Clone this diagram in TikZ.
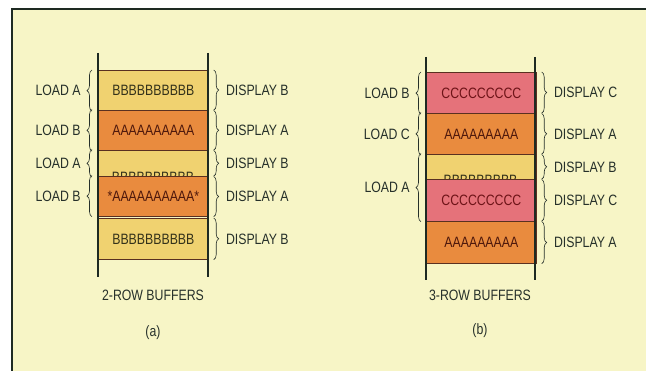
\documentclass[tikz,border=0pt]{standalone}
\usepackage{fontspec}
\setmainfont[FakeStretch=0.82]{Liberation Sans}
\usetikzlibrary{decorations.pathreplacing}

\definecolor{paper}{HTML}{F7F5C6}
\definecolor{frame}{HTML}{1E2A22}
\definecolor{lightrow}{HTML}{F0D270}
\definecolor{orangerow}{HTML}{E98B3E}
\definecolor{pinkrow}{HTML}{E5727A}
\definecolor{rowline}{HTML}{5A3020}
\definecolor{ink}{HTML}{26302A}
\definecolor{btext}{HTML}{34321A}
\definecolor{atext}{HTML}{4E180C}
\definecolor{ctext}{HTML}{6E1418}

\tikzset{
  buf/.style={rectangle, draw=rowline, line width=0.7pt, minimum width=110pt,
    inner sep=0pt, anchor=north west, font=\fontsize{15}{17}\selectfont},
  rail/.style={draw=frame, line width=2.2pt},
  lbrace/.style={draw=ink, line width=0.6pt, decorate, decoration={brace, amplitude=5pt}},
  lbl/.style={text=ink, inner sep=1pt, font=\fontsize{15}{17}\selectfont},
}

\begin{document}
\begin{tikzpicture}[x=1pt, y=-1pt]
\useasboundingbox (0,0) rectangle (646,371);
\fill[white] (0,0) rectangle (646,371);
\fill[paper] (12,9) rectangle (646,371);
\draw[draw=frame, line width=1.6pt] (12,371) -- (12,9) -- (646,9);

% (a) 2-row buffers
\node[buf, fill=lightrow, minimum height=40pt, text=btext] (a1) at (98,70) {BBBBBBBBBB};
\node[buf, fill=orangerow, minimum height=40pt, text=atext] (a2) at (98,110) {AAAAAAAAAA};
\node[buf, fill=lightrow, minimum height=26pt] (a3) at (98,150) {};
\node[text=btext, inner sep=0pt, font=\fontsize{15}{17}\selectfont] (a3t) at (153,177) {BBBBBBBBBB};
\node[buf, fill=orangerow, minimum height=40pt, text=atext] (a4) at (98,176) {*AAAAAAAAAA*};
\node[buf, fill=lightrow, minimum height=41pt, text=btext] (a5) at (98,218) {BBBBBBBBBB};
\draw[rail] (98,53) -- (98,277);
\draw[rail] (208,53) -- (208,277);

\draw[lbrace] ([xshift=-6pt,yshift=-0.5pt]a1.south west) -- ([xshift=-6pt]a1.north west) node[lbl, midway, left=10pt] (la1) {LOAD A};
\draw[lbrace] ([xshift=-6pt,yshift=-0.5pt]a2.south west) -- ([xshift=-6pt,yshift=0.5pt]a2.north west) node[lbl, midway, left=10pt] (la2) {LOAD B};
\draw[lbrace] ([xshift=-6pt,yshift=-0.5pt]a3.south west) -- ([xshift=-6pt,yshift=0.5pt]a3.north west) node[lbl, midway, left=10pt] (la3) {LOAD A};
\draw[lbrace] ([xshift=-6pt]a4.south west) -- ([xshift=-6pt,yshift=0.5pt]a4.north west) node[lbl, midway, left=10pt] (la4) {LOAD B};

\draw[lbrace] ([xshift=5pt]a1.north east) -- ([xshift=5pt,yshift=0.5pt]a1.south east) node[lbl, midway, right=11pt] (da1) {DISPLAY B};
\draw[lbrace] ([xshift=5pt,yshift=-0.5pt]a2.north east) -- ([xshift=5pt,yshift=0.5pt]a2.south east) node[lbl, midway, right=11pt] (da2) {DISPLAY A};
\draw[lbrace] ([xshift=5pt,yshift=-0.5pt]a3.north east) -- ([xshift=5pt,yshift=0.5pt]a3.south east) node[lbl, midway, right=11pt] (da3) {DISPLAY B};
\draw[lbrace] ([xshift=5pt,yshift=-0.5pt]a4.north east) -- ([xshift=5pt]a4.south east) node[lbl, midway, right=11pt] (da4) {DISPLAY A};
\draw[lbrace] ([xshift=5pt]a5.north east) -- ([xshift=5pt]a5.south east) node[lbl, midway, right=11pt] (da5) {DISPLAY B};

\node[lbl] (ta) at (153,295) {2-ROW BUFFERS};
\node[lbl] (capa) at (153,333) {(a)};

% (b) 3-row buffers
\node[buf, fill=pinkrow, minimum height=41pt, text=ctext] (b1) at (426,72) {CCCCCCCCC};
\node[buf, fill=orangerow, minimum height=41pt, text=atext] (b2) at (426,113) {AAAAAAAAA};
\node[buf, fill=lightrow, minimum height=25pt] (b3) at (426,154) {};
\node[text=btext, inner sep=0pt, font=\fontsize{15}{17}\selectfont] (b3t) at (480.5,180) {BBBBBBBBB};
\node[buf, fill=pinkrow, minimum height=42pt, text=ctext] (b4) at (426,179) {CCCCCCCCC};
\node[buf, fill=orangerow, minimum height=42pt, text=atext] (b5) at (426,221) {AAAAAAAAA};
\draw[rail] (426,57) -- (426,280);
\draw[rail] (535,57) -- (535,280);

\draw[lbrace] ([xshift=-5pt,yshift=-0.5pt]b1.south west) -- ([xshift=-5pt]b1.north west) node[lbl, midway, left=10pt] (lb1) {LOAD B};
\draw[lbrace] ([xshift=-5pt,yshift=-0.5pt]b2.south west) -- ([xshift=-5pt,yshift=0.5pt]b2.north west) node[lbl, midway, left=10pt] (lb2) {LOAD C};
\draw[lbrace] ([xshift=-5pt]b4.south west) -- ([xshift=-5pt,yshift=0.5pt]b3.north west) node[lbl, midway, left=10pt] (lb3) {LOAD A};

\draw[lbrace] ([xshift=5pt]b1.north east) -- ([xshift=5pt,yshift=0.5pt]b1.south east) node[lbl, midway, right=11pt] (db1) {DISPLAY C};
\draw[lbrace] ([xshift=5pt,yshift=-0.5pt]b2.north east) -- ([xshift=5pt,yshift=0.5pt]b2.south east) node[lbl, midway, right=11pt] (db2) {DISPLAY A};
\draw[lbrace] ([xshift=5pt,yshift=-0.5pt]b3.north east) -- ([xshift=5pt,yshift=0.5pt]b3.south east) node[lbl, midway, right=11pt] (db3) {DISPLAY B};
\draw[lbrace] ([xshift=5pt,yshift=-0.5pt]b4.north east) -- ([xshift=5pt,yshift=0.5pt]b4.south east) node[lbl, midway, right=11pt] (db4) {DISPLAY C};
\draw[lbrace] ([xshift=5pt,yshift=-0.5pt]b5.north east) -- ([xshift=5pt]b5.south east) node[lbl, midway, right=11pt] (db5) {DISPLAY A};

\node[lbl] (tb) at (480,295) {3-ROW BUFFERS};
\node[lbl] (capb) at (480,331) {(b)};
\end{tikzpicture}
\end{document}
